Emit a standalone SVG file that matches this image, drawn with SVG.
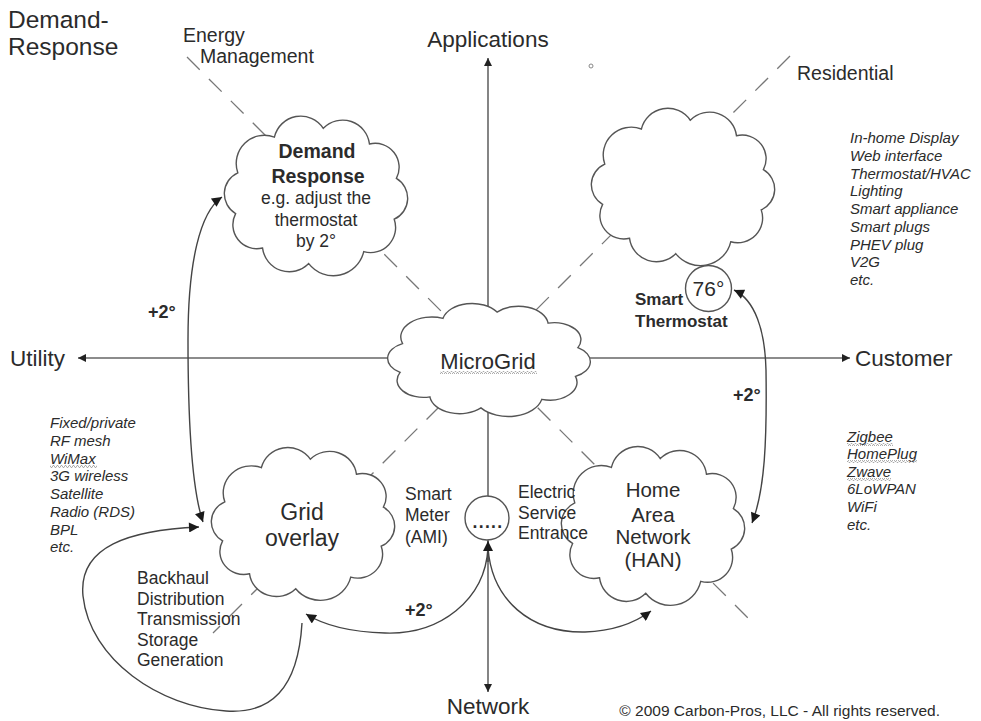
<svg xmlns="http://www.w3.org/2000/svg" xmlns:xlink="http://www.w3.org/1999/xlink" width="981" height="721" viewBox="0 0 981 721">
<style>
  text { font-family: "Liberation Sans", Arial, sans-serif; fill: #2b2b2b; }
  .ttl { font-size: 24.5px; }
  .ax { font-size: 22.5px; }
  .em { font-size: 19.5px; }
  .lst { font-size: 15px; font-style: italic; }
  .lbl { font-size: 17.5px; }
  .bld { font-weight: bold; }
  .big { font-size: 23px; }
  .mid { font-size: 20.5px; }
  .dash { stroke: #777; stroke-width: 1.3; stroke-dasharray: 18 13; fill: none; }
  .axis { stroke: #666; stroke-width: 1.6; fill: none; }
  .cur { stroke: #444; stroke-width: 1.4; fill: none; }
  .wv { fill: url(#wavy); }
</style>
<defs>
  <path id="cloud" d="M -75.2,-22.2 A 27 27 0 0 1 -40,-56.3 A 26 26 0 0 1 7,-64.8 A 26 26 0 0 1 51.4,-49.8 A 23 23 0 0 1 77.3,-16.8 A 22 22 0 0 1 75.2,22.2 A 24 24 0 0 1 45.9,53.2 A 30 30 0 0 1 -7,64.7 A 26 26 0 0 1 -51.4,49.8 A 23 23 0 0 1 -77.3,16.8 A 22 22 0 0 1 -75.2,-22.2 Z" fill="#fff" stroke="#555" stroke-width="1.4" vector-effect="non-scaling-stroke"/>
  <marker id="ah" viewBox="0 0 10 10" refX="10" refY="5" markerWidth="14" markerHeight="10" markerUnits="userSpaceOnUse" orient="auto-start-reverse">
    <path d="M0,0 L10,5 L0,10 z" fill="#1a1a1a"/>
  </marker>
  <marker id="axh" viewBox="0 0 10 10" refX="10" refY="5" markerWidth="12" markerHeight="8" markerUnits="userSpaceOnUse" orient="auto">
    <path d="M0,0 L10,5 L0,10 z" fill="#222"/>
  </marker>
  <pattern id="wavy" width="4" height="3" patternUnits="userSpaceOnUse">
    <path d="M0,2.5 L1,0.5 L2,0.5 L3,2.5 L4,2.5" fill="none" stroke="#999" stroke-width="0.8"/>
  </pattern>
</defs>

<!-- titles -->
<text class="ttl" x="8" y="28">Demand-</text>
<text class="ttl" x="8" y="55">Response</text>
<text class="em" x="183" y="42">Energy</text>
<text class="em" x="200" y="63">Management</text>
<text class="ax" x="488" y="47" text-anchor="middle">Applications</text>
<text class="em" x="797" y="80">Residential</text>
<circle cx="591" cy="66" r="2" fill="none" stroke="#888" stroke-width="1"/>

<!-- dashed diagonals -->
<g id="diagonals">
  <line class="dash" x1="187" y1="57" x2="752" y2="622"/>
  <line class="dash" x1="790" y1="56" x2="213" y2="633"/>
</g>

<!-- axes -->
<g id="axes">
  <line class="axis" x1="488" y1="358" x2="488" y2="58" marker-end="url(#axh)"/>
  <line class="axis" x1="488" y1="358" x2="488" y2="692" marker-end="url(#axh)"/>
  <line class="axis" x1="488" y1="358" x2="78" y2="358" marker-end="url(#axh)"/>
  <line class="axis" x1="488" y1="358" x2="850" y2="358" marker-end="url(#axh)"/>
</g>
<text class="ax" x="10" y="366">Utility</text>
<text class="ax" x="855" y="366">Customer</text>
<text class="ax" x="488" y="714" text-anchor="middle">Network</text>

<!-- nodes -->
<g id="demand-response">
  <use href="#cloud" transform="translate(316,196) scale(1.04,1.045)"/>
  <text class="em bld" x="317" y="158" text-anchor="middle">Demand</text>
  <text class="em bld" x="318" y="183" text-anchor="middle">Response</text>
  <text class="lbl" x="316" y="204" text-anchor="middle">e.g. adjust the</text>
  <text class="lbl" x="316" y="226" text-anchor="middle">thermostat</text>
  <text class="lbl" x="316" y="247" text-anchor="middle">by 2°</text>
</g>

<g id="residential">
  <use href="#cloud" transform="translate(683,187) scale(1.04,1.03)"/>
</g>

<g id="microgrid">
  <use href="#cloud" transform="translate(489,360) scale(1.15,0.74)"/>
  <text class="mid" x="488" y="369" text-anchor="middle" style="font-size:22px">MicroGrid</text>
  <rect class="wv" x="440" y="371" width="97" height="3"/>
</g>

<g id="grid-overlay">
  <use href="#cloud" transform="translate(303,524) scale(1.04,1.0)"/>
  <text class="big" x="302" y="520" text-anchor="middle">Grid</text>
  <text class="big" x="302" y="546" text-anchor="middle">overlay</text>
</g>

<g id="han">
  <use href="#cloud" transform="translate(653,526) scale(1.04,1.04)"/>
  <text class="mid" x="653" y="497" text-anchor="middle">Home</text>
  <text class="mid" x="653" y="522" text-anchor="middle">Area</text>
  <text class="mid" x="653" y="544" text-anchor="middle">Network</text>
  <text class="mid" x="653" y="567" text-anchor="middle">(HAN)</text>
</g>

<g id="smart-thermostat">
  <circle cx="708.5" cy="288.5" r="23" fill="#fff" stroke="#555" stroke-width="1.4"/>
  <text x="708.5" y="296" text-anchor="middle" style="font-size:21px">76°</text>
  <text class="bld" x="635" y="305" style="font-size:17px">Smart</text>
  <text class="bld" x="635" y="327" style="font-size:17px">Thermostat</text>
</g>

<g id="smart-meter">
  <circle cx="487" cy="518" r="22" fill="#fff" stroke="#555" stroke-width="1.4"/>
  <text class="lbl bld" x="488" y="528" text-anchor="middle" style="letter-spacing:1.3px">.....</text>
</g>

<!-- connectors -->
<g id="connectors">
  <path class="cur" d="M 222,197 C 200,212 188,262 188,340 C 188,430 192,490 203,522" marker-start="url(#ah)" marker-end="url(#ah)"/>
  <path class="cur" d="M 734,290 C 755,300 765,330 766,370 C 767,440 765,490 752,523" marker-start="url(#ah)" marker-end="url(#ah)"/>
  <path class="cur" d="M 302,623 C 298,690 270,714 226,711 C 160,707 90,660 83,596 C 78,546 130,530 199,527" marker-end="url(#ah)"/>
  <path class="cur" d="M 488,548 C 485,600 440,635 385,633 C 350,632 325,626 306,614" marker-end="url(#ah)"/>
  <path class="cur" d="M 488,548 C 492,600 530,633 585,632 C 615,631 636,622 651,611" marker-end="url(#ah)"/>
  <path class="cur" d="M 488,562 L 488,541" marker-end="url(#ah)"/>
</g>

<!-- labels -->
<text class="bld" x="148" y="318" style="font-size:18px">+2°</text>
<text class="bld" x="733" y="401" style="font-size:18px">+2°</text>
<text class="bld" x="405" y="616" style="font-size:18px">+2°</text>

<text class="lbl" x="405" y="500">Smart</text>
<text class="lbl" x="405" y="521">Meter</text>
<text class="lbl" x="405" y="543">(AMI)</text>

<text class="lbl" x="518" y="498">Electric</text>
<text class="lbl" x="518" y="519">Service</text>
<text class="lbl" x="518" y="539">Entrance</text>

<text class="lbl" x="137" y="584">Backhaul</text>
<text class="lbl" x="137" y="605">Distribution</text>
<text class="lbl" x="137" y="625">Transmission</text>
<text class="lbl" x="137" y="646">Storage</text>
<text class="lbl" x="137" y="666">Generation</text>

<g id="residential-list">
  <text class="lst" x="850" y="143">In-home Display</text>
  <text class="lst" x="850" y="161">Web interface</text>
  <text class="lst" x="850" y="179">Thermostat/HVAC</text>
  <text class="lst" x="850" y="196">Lighting</text>
  <text class="lst" x="850" y="214">Smart appliance</text>
  <text class="lst" x="850" y="232">Smart plugs</text>
  <text class="lst" x="850" y="250">PHEV plug</text>
  <text class="lst" x="850" y="267">V2G</text>
  <text class="lst" x="850" y="285">etc.</text>
</g>

<g id="utility-list">
  <text class="lst" x="50" y="428">Fixed/private</text>
  <text class="lst" x="50" y="446">RF mesh</text>
  <text class="lst" x="50" y="464">WiMax</text>
  <rect class="wv" x="50" y="465" width="47" height="3"/>
  <text class="lst" x="50" y="481">3G wireless</text>
  <text class="lst" x="50" y="499">Satellite</text>
  <text class="lst" x="50" y="517">Radio (RDS)</text>
  <text class="lst" x="50" y="535">BPL</text>
  <text class="lst" x="50" y="552">etc.</text>
</g>

<g id="han-list">
  <text class="lst" x="847" y="442">Zigbee</text>
  <rect class="wv" x="847" y="443" width="46" height="3"/>
  <text class="lst" x="847" y="459">HomePlug</text>
  <rect class="wv" x="847" y="460" width="70" height="3"/>
  <text class="lst" x="847" y="477">Zwave</text>
  <rect class="wv" x="847" y="478" width="44" height="3"/>
  <text class="lst" x="847" y="494">6LoWPAN</text>
  <text class="lst" x="847" y="512">WiFi</text>
  <text class="lst" x="847" y="530">etc.</text>
</g>

<text x="940" y="716" text-anchor="end" style="font-size:15.5px">© 2009 Carbon-Pros, LLC - All rights reserved.</text>
</svg>
